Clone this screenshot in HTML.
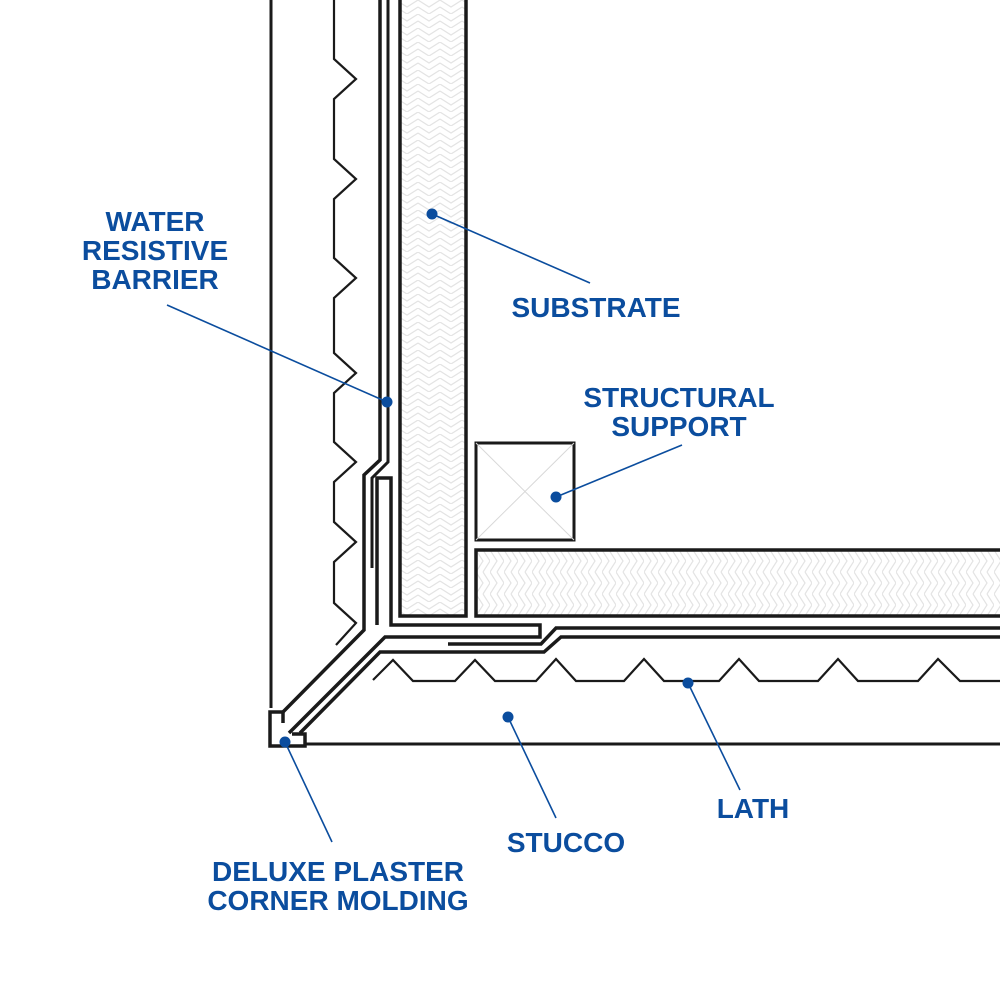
<!DOCTYPE html>
<html><head><meta charset="utf-8"><style>
html,body{margin:0;padding:0;background:#fff}
svg{display:block}
text{font-family:"Liberation Sans",Arial,sans-serif;font-weight:bold;font-size:28px;fill:#0b4d9e;text-anchor:middle}
</style></head><body>
<svg width="1000" height="1000" viewBox="0 0 1000 1000" xmlns="http://www.w3.org/2000/svg">
<defs>
<pattern id="hv" width="22" height="14" patternUnits="userSpaceOnUse">
<path d="M0,0 L11,7 L22,0 M0,7 L11,14 L22,7" stroke="#e3e3e3" stroke-width="1.2" fill="none"/>
</pattern>
<pattern id="hh" width="14" height="22" patternUnits="userSpaceOnUse">
<path d="M0,0 L7,11 L0,22 M7,0 L14,11 L7,22" stroke="#e3e3e3" stroke-width="1.2" fill="none"/>
</pattern>
</defs>
<rect x="400" y="-5" width="66" height="621" fill="url(#hv)"/>
<path d="M400,-5 V616 H466 V-5" fill="none" stroke="#1a1a1a" stroke-width="3.5"/>
<rect x="476" y="550" width="530" height="66" fill="url(#hh)"/>
<path d="M1005,550 H476 V616 H1005" fill="none" stroke="#1a1a1a" stroke-width="3.5"/>
<rect x="476" y="443" width="98" height="97" fill="#fff" stroke="#1a1a1a" stroke-width="3"/>
<path d="M476,443 L574,540 M574,443 L476,540" stroke="#d8d8d8" stroke-width="1"/>
<path d="M271,0 V708" stroke="#1a1a1a" stroke-width="3" fill="none"/>
<path d="M306,744 H1000" stroke="#1a1a1a" stroke-width="3" fill="none"/>
<path d="M334,0 V59 L356,79 L334,99 V159 L356,179 L334,199 V258 L356,278 L334,298 V353 L356,373 L334,393 V442 L356,462 L334,482 V522 L356,542 L334,562 V603 L356,623 L336,645" stroke="#1a1a1a" stroke-width="2.2" fill="none"/>
<path d="M373,680 L393,660 L413,681 H455 L475,660 L495,681 H536 L556,659 L576,681 H624 L644,659 L664,681 H719 L739,659 L759,681 H818 L838,659 L858,681 H918 L938,659 L960,681 H1000" stroke="#1a1a1a" stroke-width="2.2" fill="none"/>
<path d="M380,0 V460 L364,475 V630 L283,712" stroke="#1a1a1a" stroke-width="3.5" fill="none"/>
<path d="M388,0 V462 L372,478 V568" stroke="#1a1a1a" stroke-width="3" fill="none"/>
<path d="M448,644 H541 L556,628 H1000" stroke="#1a1a1a" stroke-width="3.5" fill="none"/>
<path d="M1000,637 H561 L544,652 H380 L300,733" stroke="#1a1a1a" stroke-width="3.5" fill="none"/>
<path d="M377,625 V478 H391 V625 H540 V637 H385 L289,733" stroke="#1a1a1a" stroke-width="3.5" fill="none"/>
<path d="M283,723 V712 H270 V746 H305 V734 H292" stroke="#1a1a1a" stroke-width="3.5" fill="none"/>
<g stroke="#0b4d9e" stroke-width="1.6">
<line x1="167" y1="305" x2="387" y2="402"/>
<line x1="432" y1="214" x2="590" y2="283"/>
<line x1="556" y1="497" x2="682" y2="445"/>
<line x1="688" y1="683" x2="740" y2="790"/>
<line x1="508" y1="717" x2="556" y2="818"/>
<line x1="285" y1="742" x2="332" y2="842"/>
</g>
<g fill="#0b4d9e">
<circle cx="387" cy="402" r="5.5"/>
<circle cx="432" cy="214" r="5.5"/>
<circle cx="556" cy="497" r="5.5"/>
<circle cx="688" cy="683" r="5.5"/>
<circle cx="508" cy="717" r="5.5"/>
<circle cx="285" cy="742" r="5.5"/>
</g>
<text x="155" y="231">WATER</text>
<text x="155" y="260">RESISTIVE</text>
<text x="155" y="289">BARRIER</text>
<text x="596" y="317">SUBSTRATE</text>
<text x="679" y="407">STRUCTURAL</text>
<text x="679" y="436">SUPPORT</text>
<text x="753" y="818">LATH</text>
<text x="566" y="852">STUCCO</text>
<text x="338" y="881">DELUXE PLASTER</text>
<text x="338" y="910">CORNER MOLDING</text>
</svg>
</body></html>
